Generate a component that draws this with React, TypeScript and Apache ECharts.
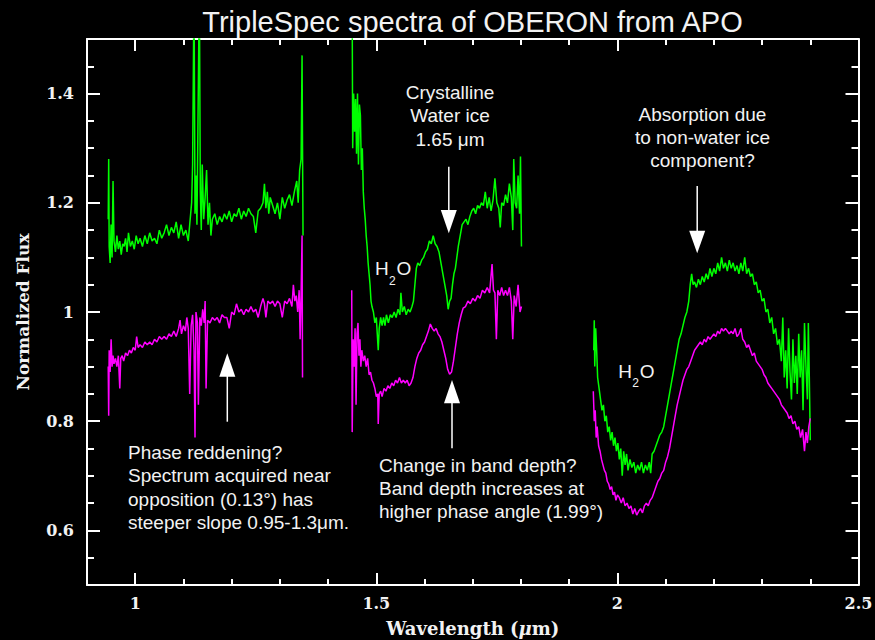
import React, { useEffect, useRef } from "react";
import * as echarts from "echarts";

// ---------- tick values ----------
const xMajorTicks = [1, 1.5, 2, 2.5];
const yMajorTicks = [0.6, 0.8, 1, 1.2, 1.4];

// ---------- spectra: [wavelength (um), normalized flux] ----------
// Green: spectrum at higher phase angle (upper, offset)
const greenSeg1: [number, number][] = [
  [0.944, 1.17], [0.945, 1.28], [0.946, 1.12], [0.948, 1.09], [0.95, 1.16], [0.952, 1.1], [0.954, 1.24],
  [0.956, 1.13], [0.959, 1.11], [0.962, 1.14], [0.965, 1.115], [0.968, 1.13], [0.971, 1.105], [0.974, 1.125],
  [0.977, 1.12], [0.98, 1.135], [0.983, 1.11], [0.986, 1.145], [0.99, 1.12], [0.994, 1.13], [0.998, 1.115],
  [1.002, 1.14], [1.006, 1.125], [1.01, 1.135], [1.015, 1.12], [1.02, 1.14], [1.025, 1.125], [1.03, 1.145],
  [1.035, 1.13], [1.04, 1.135], [1.045, 1.125], [1.05, 1.15], [1.055, 1.135], [1.06, 1.145], [1.065, 1.16],
  [1.07, 1.14], [1.075, 1.155], [1.08, 1.145], [1.085, 1.165], [1.09, 1.135], [1.095, 1.16], [1.1, 1.14],
  [1.105, 1.15], [1.11, 1.13], [1.114, 1.17], [1.117, 1.2], [1.119, 1.27], [1.122, 1.6], [1.124, 1.18],
  [1.126, 1.25], [1.128, 1.16], [1.133, 1.6], [1.135, 1.22], [1.137, 1.15], [1.139, 1.27], [1.142, 1.17],
  [1.145, 1.21], [1.148, 1.26], [1.151, 1.16], [1.154, 1.2], [1.157, 1.14], [1.16, 1.17], [1.165, 1.18],
  [1.17, 1.16], [1.175, 1.175], [1.18, 1.165], [1.185, 1.18], [1.19, 1.17], [1.195, 1.185], [1.2, 1.165],
  [1.205, 1.18], [1.21, 1.175], [1.215, 1.19], [1.22, 1.17], [1.225, 1.185], [1.23, 1.175], [1.235, 1.19],
  [1.24, 1.18], [1.245, 1.175], [1.25, 1.145], [1.255, 1.185], [1.26, 1.19], [1.265, 1.2], [1.268, 1.235],
  [1.271, 1.19], [1.274, 1.22], [1.277, 1.18], [1.28, 1.21], [1.285, 1.195], [1.29, 1.18], [1.295, 1.2],
  [1.3, 1.17], [1.305, 1.21], [1.31, 1.19], [1.315, 1.205], [1.32, 1.215], [1.325, 1.195], [1.33, 1.22],
  [1.335, 1.24], [1.338, 1.2], [1.341, 1.26], [1.344, 1.28], [1.346, 1.47], [1.347, 1.3], [1.348, 1.14],
];

const greenSeg2: [number, number][] = [
  [1.45, 1.55], [1.451, 1.3], [1.453, 1.4], [1.455, 1.33], [1.457, 1.39], [1.459, 1.29], [1.461, 1.4],
  [1.463, 1.27], [1.465, 1.38], [1.467, 1.36], [1.469, 1.26], [1.471, 1.3], [1.473, 1.22], [1.475, 1.19],
  [1.477, 1.17], [1.479, 1.14], [1.481, 1.12], [1.483, 1.09], [1.485, 1.07], [1.487, 1.05], [1.489, 1.02],
  [1.491, 1.01], [1.494, 1.0], [1.497, 0.98], [1.5, 0.99], [1.502, 0.96], [1.504, 0.93], [1.506, 0.97],
  [1.509, 0.99], [1.512, 0.975], [1.515, 0.99], [1.518, 0.975], [1.521, 0.995], [1.525, 0.98], [1.529, 0.995],
  [1.533, 0.99], [1.537, 1.0], [1.541, 0.99], [1.545, 1.005], [1.549, 0.995], [1.551, 1.035], [1.554, 1.0],
  [1.558, 1.01], [1.562, 0.995], [1.566, 1.005], [1.57, 1.0], [1.574, 1.01], [1.577, 1.02], [1.58, 1.05],
  [1.583, 1.08], [1.586, 1.09], [1.59, 1.085], [1.594, 1.095], [1.598, 1.1], [1.602, 1.11], [1.606, 1.115],
  [1.61, 1.13], [1.614, 1.125], [1.618, 1.14], [1.622, 1.125], [1.626, 1.12], [1.63, 1.11], [1.634, 1.09],
  [1.638, 1.07], [1.642, 1.05], [1.646, 1.03], [1.649, 1.005], [1.652, 1.02], [1.655, 1.025], [1.658, 1.05],
  [1.661, 1.07], [1.664, 1.08], [1.667, 1.1], [1.67, 1.12], [1.674, 1.14], [1.678, 1.16], [1.682, 1.165],
  [1.686, 1.17], [1.69, 1.16], [1.694, 1.175], [1.698, 1.185], [1.702, 1.19], [1.706, 1.18], [1.71, 1.195],
  [1.714, 1.19], [1.718, 1.2], [1.722, 1.195], [1.726, 1.22], [1.73, 1.19], [1.734, 1.21], [1.738, 1.185],
  [1.742, 1.205], [1.746, 1.245], [1.75, 1.2], [1.754, 1.19], [1.757, 1.155], [1.76, 1.2], [1.764, 1.195],
  [1.768, 1.215], [1.772, 1.2], [1.776, 1.235], [1.78, 1.21], [1.783, 1.15], [1.785, 1.28], [1.788, 1.2],
  [1.791, 1.19], [1.794, 1.25], [1.797, 1.18], [1.799, 1.285], [1.801, 1.12],
];

const greenSeg3: [number, number][] = [
  [1.951, 0.93], [1.952, 0.985], [1.953, 0.9], [1.955, 0.97], [1.957, 0.93], [1.959, 0.88], [1.962, 0.86],
  [1.965, 0.84], [1.968, 0.82], [1.971, 0.83], [1.974, 0.8], [1.977, 0.81], [1.98, 0.78], [1.983, 0.79],
  [1.986, 0.765], [1.989, 0.78], [1.992, 0.755], [1.995, 0.77], [1.998, 0.745], [2.001, 0.76], [2.004, 0.73],
  [2.007, 0.75], [2.01, 0.7], [2.013, 0.745], [2.016, 0.72], [2.019, 0.74], [2.022, 0.71], [2.026, 0.73],
  [2.03, 0.715], [2.034, 0.725], [2.038, 0.705], [2.042, 0.72], [2.046, 0.71], [2.05, 0.725], [2.054, 0.705],
  [2.058, 0.72], [2.062, 0.71], [2.066, 0.725], [2.069, 0.705], [2.072, 0.74], [2.076, 0.745], [2.08, 0.755],
  [2.084, 0.765], [2.088, 0.775], [2.092, 0.78], [2.096, 0.79], [2.1, 0.81], [2.104, 0.83], [2.108, 0.85],
  [2.112, 0.87], [2.116, 0.89], [2.12, 0.91], [2.124, 0.93], [2.128, 0.95], [2.132, 0.96], [2.136, 0.975],
  [2.14, 0.99], [2.144, 1.0], [2.148, 1.02], [2.151, 1.05], [2.154, 1.07], [2.157, 1.05], [2.16, 1.055],
  [2.164, 1.045], [2.168, 1.06], [2.172, 1.05], [2.176, 1.065], [2.18, 1.055], [2.184, 1.07], [2.188, 1.06],
  [2.192, 1.08], [2.196, 1.065], [2.2, 1.08], [2.204, 1.07], [2.208, 1.09], [2.212, 1.075], [2.216, 1.1],
  [2.22, 1.08], [2.224, 1.09], [2.228, 1.075], [2.232, 1.095], [2.236, 1.08], [2.24, 1.09], [2.244, 1.075],
  [2.248, 1.085], [2.252, 1.07], [2.256, 1.09], [2.26, 1.075], [2.264, 1.1], [2.268, 1.07], [2.272, 1.08],
  [2.276, 1.065], [2.28, 1.07], [2.284, 1.05], [2.288, 1.055], [2.292, 1.035], [2.296, 1.04], [2.3, 1.02],
  [2.304, 1.025], [2.308, 1.0], [2.312, 1.005], [2.316, 0.98], [2.32, 0.99], [2.324, 0.96], [2.328, 0.97],
  [2.332, 0.94], [2.336, 0.95], [2.34, 0.91], [2.343, 0.99], [2.346, 0.88], [2.349, 0.93], [2.352, 0.86],
  [2.355, 0.97], [2.358, 0.89], [2.361, 0.84], [2.364, 0.95], [2.367, 0.87], [2.37, 0.92], [2.373, 0.85],
  [2.376, 0.96], [2.379, 0.88], [2.382, 0.93], [2.385, 0.82], [2.388, 0.98], [2.391, 0.9], [2.394, 0.84],
  [2.396, 0.98], [2.398, 0.88], [2.4, 0.765],
];

// Magenta: spectrum acquired near opposition (lower)
const magentaSeg1: [number, number][] = [
  [0.944, 0.9], [0.945, 0.81], [0.946, 0.93], [0.948, 0.89], [0.95, 0.95], [0.952, 0.9], [0.954, 0.92],
  [0.956, 0.905], [0.959, 0.915], [0.962, 0.9], [0.965, 0.92], [0.968, 0.86], [0.97, 0.915], [0.973, 0.92],
  [0.976, 0.91], [0.98, 0.925], [0.984, 0.92], [0.988, 0.93], [0.992, 0.925], [0.996, 0.935], [1.0, 0.93],
  [1.003, 0.955], [1.006, 0.935], [1.01, 0.94], [1.015, 0.935], [1.02, 0.945], [1.025, 0.94], [1.03, 0.945],
  [1.035, 0.94], [1.04, 0.95], [1.045, 0.945], [1.05, 0.955], [1.055, 0.95], [1.06, 0.955], [1.065, 0.95],
  [1.07, 0.96], [1.075, 0.955], [1.08, 0.965], [1.085, 0.955], [1.09, 0.97], [1.093, 0.985], [1.096, 0.96],
  [1.1, 0.975], [1.104, 0.965], [1.107, 0.99], [1.11, 0.97], [1.113, 0.85], [1.116, 0.975], [1.119, 0.995],
  [1.122, 0.93], [1.124, 0.77], [1.126, 1.0], [1.129, 0.98], [1.131, 0.83], [1.134, 0.99], [1.137, 0.975],
  [1.14, 1.005], [1.143, 0.98], [1.145, 1.02], [1.147, 0.86], [1.15, 0.985], [1.155, 0.98], [1.16, 0.99],
  [1.165, 0.985], [1.17, 0.99], [1.175, 0.98], [1.18, 0.995], [1.185, 0.99], [1.19, 0.99], [1.195, 0.97],
  [1.2, 1.0], [1.205, 0.995], [1.21, 1.015], [1.215, 1.0], [1.22, 1.005], [1.225, 0.995], [1.23, 1.005],
  [1.235, 1.0], [1.24, 1.01], [1.245, 1.0], [1.25, 1.005], [1.255, 0.99], [1.26, 1.01], [1.265, 1.025],
  [1.268, 1.015], [1.271, 0.99], [1.275, 1.02], [1.28, 1.015], [1.285, 1.02], [1.29, 1.01], [1.295, 1.02],
  [1.3, 1.015], [1.305, 0.99], [1.31, 1.02], [1.315, 1.015], [1.32, 1.025], [1.325, 1.01], [1.328, 1.05],
  [1.331, 1.02], [1.334, 1.03], [1.337, 1.0], [1.34, 1.04], [1.342, 0.95], [1.344, 1.03], [1.346, 1.14],
  [1.347, 0.88],
];

const magentaSeg2: [number, number][] = [
  [1.449, 1.04], [1.45, 0.78], [1.452, 0.95], [1.454, 0.9], [1.456, 0.97], [1.458, 0.83], [1.46, 0.96],
  [1.462, 0.98], [1.464, 0.92], [1.466, 0.95], [1.468, 0.9], [1.47, 0.93], [1.473, 0.91], [1.476, 0.92],
  [1.479, 0.9], [1.482, 0.915], [1.485, 0.885], [1.488, 0.89], [1.491, 0.875], [1.494, 0.87], [1.497, 0.86],
  [1.5, 0.845], [1.503, 0.85], [1.504, 0.795], [1.506, 0.85], [1.509, 0.855], [1.512, 0.845], [1.516, 0.86],
  [1.52, 0.855], [1.524, 0.865], [1.528, 0.86], [1.532, 0.87], [1.536, 0.865], [1.54, 0.875], [1.544, 0.87],
  [1.548, 0.88], [1.552, 0.87], [1.556, 0.875], [1.56, 0.87], [1.564, 0.875], [1.568, 0.865], [1.572, 0.87],
  [1.576, 0.88], [1.58, 0.9], [1.584, 0.915], [1.588, 0.925], [1.592, 0.93], [1.596, 0.94], [1.6, 0.945],
  [1.604, 0.955], [1.608, 0.965], [1.612, 0.978], [1.616, 0.97], [1.62, 0.965], [1.624, 0.97], [1.628, 0.96],
  [1.632, 0.955], [1.636, 0.945], [1.64, 0.93], [1.644, 0.915], [1.648, 0.895], [1.652, 0.886], [1.656, 0.89],
  [1.66, 0.91], [1.664, 0.935], [1.668, 0.96], [1.672, 0.98], [1.676, 0.995], [1.68, 1.007], [1.685, 1.01],
  [1.69, 1.02], [1.695, 1.015], [1.7, 1.025], [1.705, 1.02], [1.71, 1.03], [1.715, 1.025], [1.72, 1.04],
  [1.725, 1.035], [1.73, 1.045], [1.735, 1.035], [1.74, 1.088], [1.743, 1.04], [1.746, 1.035], [1.749, 0.95],
  [1.752, 1.04], [1.756, 1.03], [1.76, 1.045], [1.764, 1.03], [1.768, 1.04], [1.772, 1.03], [1.776, 1.045],
  [1.78, 1.02], [1.783, 0.95], [1.786, 1.03], [1.79, 1.01], [1.794, 1.05], [1.798, 1.0], [1.801, 1.01],
];

const magentaSeg3: [number, number][] = [
  [1.95, 0.855], [1.952, 0.8], [1.954, 0.82], [1.956, 0.77], [1.958, 0.79], [1.961, 0.755], [1.964, 0.745],
  [1.967, 0.73], [1.97, 0.72], [1.973, 0.71], [1.976, 0.705], [1.979, 0.69], [1.982, 0.685], [1.985, 0.675],
  [1.988, 0.68], [1.991, 0.665], [1.994, 0.67], [1.997, 0.655], [2.0, 0.665], [2.004, 0.66], [2.008, 0.65],
  [2.012, 0.66], [2.016, 0.645], [2.02, 0.65], [2.024, 0.64], [2.028, 0.645], [2.032, 0.63], [2.036, 0.64],
  [2.04, 0.628], [2.044, 0.635], [2.048, 0.64], [2.052, 0.632], [2.056, 0.645], [2.06, 0.65], [2.064, 0.645],
  [2.068, 0.655], [2.072, 0.66], [2.076, 0.67], [2.08, 0.68], [2.084, 0.69], [2.088, 0.695], [2.092, 0.705],
  [2.096, 0.71], [2.1, 0.725], [2.104, 0.735], [2.108, 0.75], [2.112, 0.77], [2.116, 0.79], [2.12, 0.81],
  [2.124, 0.83], [2.128, 0.845], [2.132, 0.86], [2.136, 0.875], [2.14, 0.885], [2.144, 0.895], [2.148, 0.9],
  [2.152, 0.91], [2.156, 0.92], [2.16, 0.93], [2.164, 0.935], [2.168, 0.94], [2.172, 0.945], [2.176, 0.94],
  [2.18, 0.95], [2.184, 0.945], [2.188, 0.955], [2.192, 0.95], [2.196, 0.955], [2.2, 0.96], [2.204, 0.955],
  [2.208, 0.965], [2.212, 0.96], [2.216, 0.97], [2.22, 0.965], [2.224, 0.97], [2.228, 0.965], [2.232, 0.96],
  [2.236, 0.965], [2.24, 0.96], [2.244, 0.97], [2.248, 0.955], [2.252, 0.96], [2.256, 0.97], [2.26, 0.95],
  [2.264, 0.945], [2.268, 0.935], [2.272, 0.94], [2.276, 0.93], [2.28, 0.92], [2.284, 0.925], [2.288, 0.91],
  [2.292, 0.905], [2.296, 0.9], [2.3, 0.895], [2.304, 0.885], [2.308, 0.88], [2.312, 0.87], [2.316, 0.865],
  [2.32, 0.86], [2.324, 0.855], [2.328, 0.85], [2.332, 0.845], [2.336, 0.84], [2.34, 0.83], [2.344, 0.825],
  [2.348, 0.82], [2.352, 0.815], [2.356, 0.805], [2.36, 0.81], [2.364, 0.795], [2.368, 0.8], [2.372, 0.785],
  [2.376, 0.79], [2.38, 0.77], [2.384, 0.785], [2.388, 0.745], [2.391, 0.78], [2.394, 0.76], [2.397, 0.79],
  [2.4, 0.805],
];

const GREEN = "#00ff00";
const MAGENTA = "#ff00ff";
const WHITE = "#ffffff";
const TEXT = "#f2f2f2";
const SERIF = "DejaVu Serif";
const SANS = "Liberation Sans, Arial, sans-serif";

const fmt = (v: number) => String(Number(v.toFixed(2)));

function buildAxes(kind: "x" | "y") {
  const isX = kind === "x";
  const min = isX ? 0.9 : 0.5;
  const max = isX ? 2.5 : 1.5;
  const minorInterval = isX ? 0.1 : 0.05;
  const majors = isX ? xMajorTicks : yMajorTicks;
  const positions = isX ? ["bottom", "top"] : ["left", "right"];
  const minorLen = isX ? 6 : 7;
  const majorLen = isX ? 12 : 13;
  const axes: any[] = [];
  positions.forEach((position, i) => {
    axes.push({
      type: "value",
      position,
      min,
      max,
      interval: minorInterval,
      axisLine: { show: true, onZero: false, lineStyle: { color: WHITE, width: 2 } },
      axisTick: { show: true, inside: true, length: minorLen, lineStyle: { color: WHITE, width: 2 } },
      axisLabel: { show: false },
      splitLine: { show: false },
    });
    const major: any = {
      type: "value",
      position,
      min,
      max,
      axisLine: { show: false, onZero: false },
      axisTick: {
        show: true,
        inside: true,
        length: majorLen,
        customValues: majors,
        lineStyle: { color: WHITE, width: 2 },
      },
      axisLabel:
        i === 0
          ? {
              show: true,
              customValues: majors,
              margin: isX ? 10 : 13,
              formatter: (v: number) => fmt(v),
              fontFamily: SERIF,
              fontWeight: "bold",
              fontSize: 16,
              color: TEXT,
            }
          : { show: false },
      splitLine: { show: false },
    };
    if (i === 0) {
      if (isX) {
        major.name = "Wavelength ({i|\u03bc}m)";
        major.nameLocation = "middle";
        major.nameGap = 43;
        major.nameTextStyle = {
          fontFamily: SERIF,
          fontWeight: "bold",
          fontSize: 18,
          color: TEXT,
          verticalAlign: "middle",
          rich: {
            i: { fontFamily: SERIF, fontWeight: "bold", fontStyle: "italic", fontSize: 18, color: TEXT },
          },
        };
      } else {
        major.name = "Normalized Flux";
        major.nameLocation = "middle";
        major.nameGap = 64;
        major.nameRotate = 90;
        major.nameTextStyle = {
          fontFamily: SERIF,
          fontWeight: "bold",
          fontSize: 17,
          color: TEXT,
          verticalAlign: "middle",
        };
      }
    }
    axes.push(major);
  });
  return axes;
}

function textEl(text: string, x: number, y: number, align: string, extra: any = {}) {
  return {
    type: "text",
    x,
    y,
    silent: true,
    style: {
      text,
      fill: TEXT,
      fontFamily: SANS,
      fontSize: 19,
      align,
      verticalAlign: "top",
      lineHeight: 23.3,
      ...extra,
    },
  };
}

function arrow(x: number, shaftFrom: number, shaftTo: number, headBase: number, tip: number) {
  return [
    {
      type: "line",
      silent: true,
      shape: { x1: x, y1: shaftFrom, x2: x, y2: shaftTo },
      style: { stroke: WHITE, lineWidth: 1.5 },
    },
    {
      type: "polygon",
      silent: true,
      shape: { points: [[x - 8, headBase], [x + 8, headBase], [x, tip]] },
      style: { fill: WHITE },
    },
  ];
}

function h2o(left: number, cy: number, subDy: number) {
  return [
    { type: "text", x: left, y: cy, silent: true, style: { text: "H", fill: TEXT, fontFamily: SANS, fontSize: 19, align: "left", verticalAlign: "middle" } },
    { type: "text", x: left + 14, y: cy + subDy, silent: true, style: { text: "2", fill: TEXT, fontFamily: SANS, fontSize: 12, align: "left", verticalAlign: "middle" } },
    { type: "text", x: left + 21.5, y: cy, silent: true, style: { text: "O", fill: TEXT, fontFamily: SANS, fontSize: 19, align: "left", verticalAlign: "middle" } },
  ];
}

export default function App() {
  const ref = useRef<HTMLDivElement>(null);

  useEffect(() => {
    if (!ref.current) return;
    const chart = echarts.init(ref.current, null, { renderer: "svg" });

    const lineSeries = (data: [number, number][], color: string) => ({
      type: "line",
      xAxisIndex: 0,
      yAxisIndex: 0,
      data,
      symbol: "none",
      showSymbol: false,
      clip: true,
      silent: true,
      lineStyle: { color, width: 1.5 },
      emphasis: { disabled: true },
    });

    const option: any = {
      animation: false,
      backgroundColor: "#000000",
      title: {
        text: "TripleSpec spectra of OBERON from APO",
        left: 472.5,
        top: 7,
        padding: 0,
        textAlign: "center",
        textStyle: { color: TEXT, fontFamily: SANS, fontSize: 29, fontWeight: "normal" },
      },
      grid: { left: 87, right: 16.5, top: 39, bottom: 55, outerBoundsMode: "none" },
      xAxis: buildAxes("x"),
      yAxis: buildAxes("y"),
      series: [
        lineSeries(greenSeg1, GREEN),
        lineSeries(greenSeg2, GREEN),
        lineSeries(greenSeg3, GREEN),
        lineSeries(magentaSeg1, MAGENTA),
        lineSeries(magentaSeg2, MAGENTA),
        lineSeries(magentaSeg3, MAGENTA),
      ],
      graphic: [
        textEl("Crystalline\nWater ice\n1.65 \u03bcm", 450, 81, "center"),
        ...arrow(448.8, 166.7, 212, 210, 233.3),
        textEl("Absorption due\nto non-water ice\ncomponent?", 702.5, 102.6, "center", { lineHeight: 23 }),
        ...arrow(697.2, 186, 232, 230.7, 253.3),
        ...h2o(375, 268.3, 12.5),
        ...h2o(618.3, 371.7, 11.6),
        textEl(
          "Phase reddening?\nSpectrum acquired near\nopposition (0.13\u00b0) has\nsteeper slope 0.95-1.3\u03bcm.",
          128,
          441,
          "left"
        ),
        ...arrow(227.3, 421.7, 376, 376.7, 353.3),
        textEl(
          "Change in band depth?\nBand depth increases at\nhigher phase angle (1.99\u00b0)",
          379,
          453.4,
          "left"
        ),
        ...arrow(452, 448.3, 402, 403.3, 380),
      ],
    };

    chart.setOption(option);
    return () => {
      chart.dispose();
    };
  }, []);

  return (
    <div
      ref={ref}
      style={{
        position: "fixed",
        left: 0,
        top: 0,
        width: 875,
        height: 640,
        background: "#000000",
      }}
    />
  );
}
